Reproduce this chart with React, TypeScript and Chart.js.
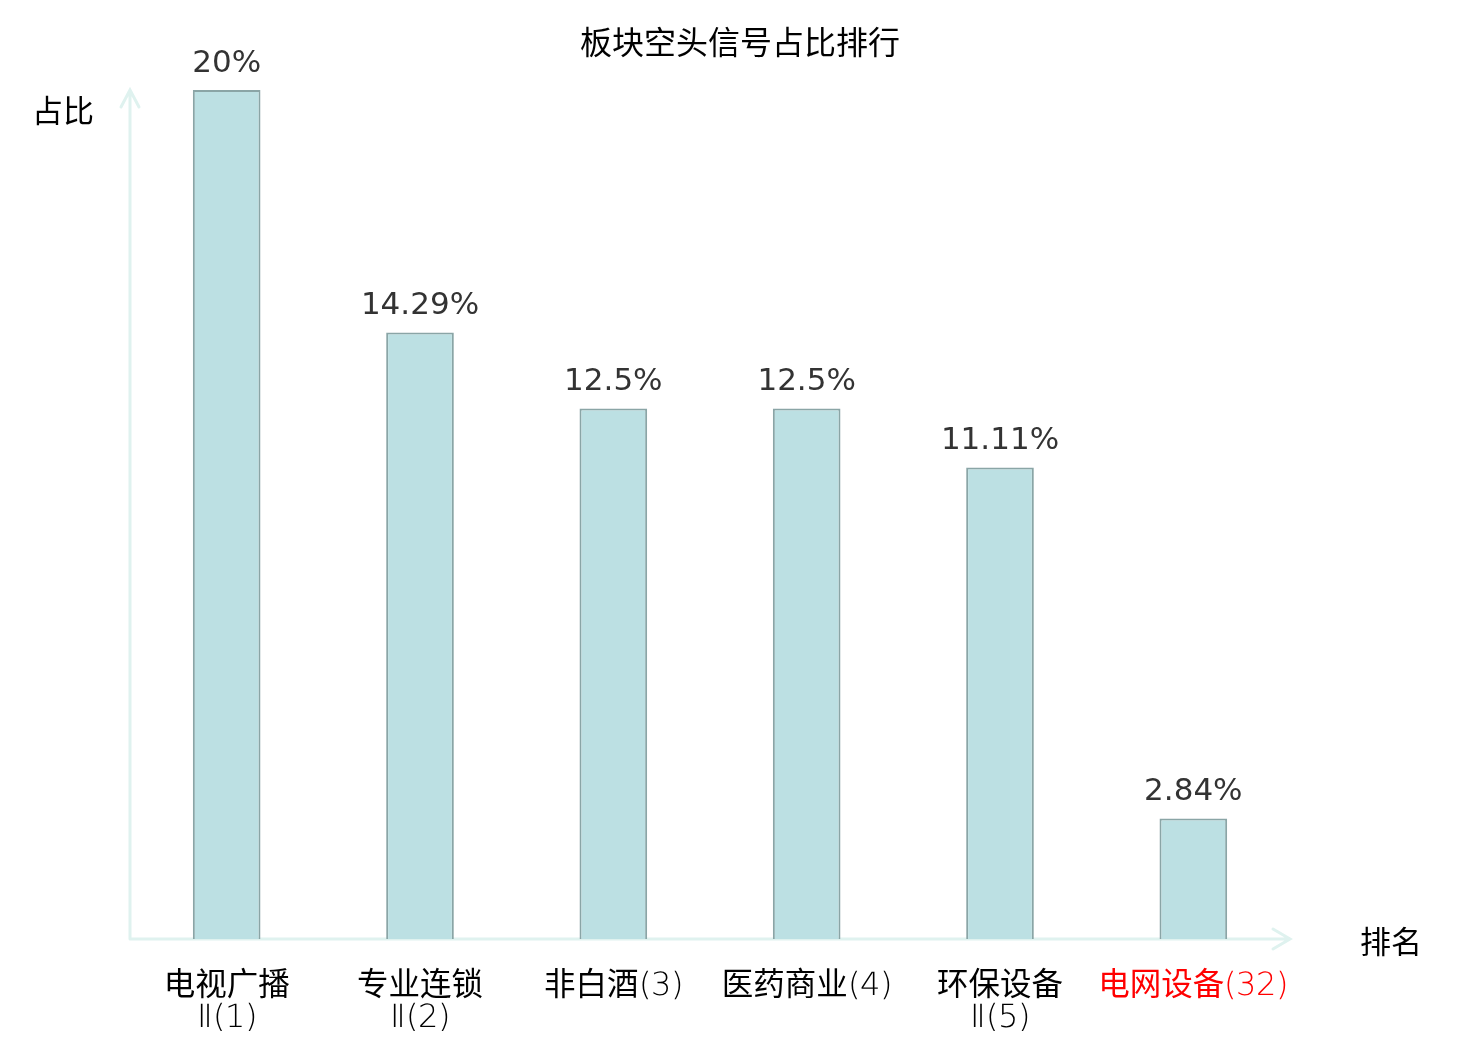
import { useEffect, useRef } from 'react';
import { Chart, registerables, Plugin } from 'chart.js';

Chart.register(...registerables);

const categories: string[][] = [
  ['电视广播', 'Ⅱ(1)'],
  ['专业连锁', 'Ⅱ(2)'],
  ['非白酒(3)'],
  ['医药商业(4)'],
  ['环保设备', 'Ⅱ(5)'],
  ['电网设备(32)'],
];
const shares: number[] = [20, 14.29, 12.5, 12.5, 11.11, 2.84];
const highlightIndex = 5;

const chartTitle = '板块空头信号占比排行';
const yName = '占比';
const xName = '排名';

const CJK = '"Noto Sans CJK SC", "DejaVu Sans", sans-serif';
// thin latin glyphs, regular CJK glyphs
const TICK_FONT = 'TickLatin, "Noto Sans CJK SC", sans-serif';
const AXIS_COLOR = '#dff2ef';

const fontFace = `@font-face {
  font-family: 'TickLatin';
  src: local('DejaVu Sans ExtraLight'), local('DejaVuSans-ExtraLight');
  unicode-range: U+0000-00FF, U+2160-2188;
}`;

// axis lines with arrows, names, title and value labels
const decorations: Plugin<'bar'> = {
  id: 'decorations',
  beforeDatasetsDraw(chart) {
    const { ctx, chartArea } = chart;
    const { left, right, top, bottom } = chartArea;
    ctx.save();
    ctx.strokeStyle = AXIS_COLOR;
    ctx.lineWidth = 3;
    ctx.lineCap = 'round';
    ctx.beginPath();
    ctx.moveTo(left, bottom);
    ctx.lineTo(left, top);
    ctx.moveTo(left - 9, top + 17);
    ctx.lineTo(left, top);
    ctx.lineTo(left + 9, top + 17);
    ctx.moveTo(left, bottom);
    ctx.lineTo(right, bottom);
    ctx.moveTo(right - 17, bottom - 10);
    ctx.lineTo(right, bottom);
    ctx.lineTo(right - 17, bottom + 10);
    ctx.stroke();
    ctx.restore();
  },
  afterDatasetsDraw(chart) {
    const { ctx } = chart;
    ctx.save();
    ctx.fillStyle = '#000';
    ctx.textAlign = 'center';
    ctx.textBaseline = 'middle';
    ctx.font = `32px ${CJK}`;
    ctx.fillText(chartTitle, chart.width / 2, 42);
    ctx.font = `31px ${CJK}`;
    ctx.fillText(yName, 63, 110);
    ctx.fillText(xName, 1391, 941);

    ctx.fillStyle = '#333';
    ctx.font = '31px "DejaVu Sans", sans-serif';
    ctx.textBaseline = 'alphabetic';
    const meta = chart.getDatasetMeta(0);
    meta.data.forEach((bar, i) => {
      ctx.fillText(`${shares[i]}%`, bar.x, bar.y - 18);
    });
    ctx.restore();
  },
};

export default function App() {
  const canvasRef = useRef<HTMLCanvasElement>(null);
  const chartRef = useRef<Chart<'bar'> | null>(null);

  useEffect(() => {
    document.body.style.margin = '0';
    let cancelled = false;

    const style = document.createElement('style');
    style.textContent = fontFace;
    document.head.appendChild(style);

    const build = () => {
      if (cancelled || !canvasRef.current) return;
      if (chartRef.current) chartRef.current.destroy();

      chartRef.current = new Chart(canvasRef.current, {
        type: 'bar',
        data: {
          labels: categories,
          datasets: [
            {
              data: shares,
              backgroundColor: '#bce0e3',
              borderColor: '#8aa5a6',
              borderWidth: 2,
              barPercentage: 0.35,
              categoryPercentage: 1,
            },
          ],
        },
        options: {
          animation: false,
          responsive: false,
          layout: { padding: { left: 130, right: 190, top: 90, bottom: 9 } },
          plugins: {
            legend: { display: false },
            title: { display: false },
            tooltip: { enabled: false },
          },
          scales: {
            x: {
              grid: { display: false },
              border: { display: false },
              afterFit: (scale) => {
                scale.height = 92;
              },
              ticks: {
                padding: 24,
                maxRotation: 0,
                autoSkip: false,
                font: { family: TICK_FONT, size: 31.5, lineHeight: 1.02 },
                color: (c) => (c.index === highlightIndex ? '#f00' : '#000'),
              },
            },
            y: {
              display: false,
              min: 0,
              max: 20,
            },
          },
        },
        plugins: [decorations],
      });
    };

    document.fonts
      .load('31px TickLatin', 'Ⅱ(1)')
      .catch(() => undefined)
      .then(build);

    return () => {
      cancelled = true;
      style.remove();
      if (chartRef.current) {
        chartRef.current.destroy();
        chartRef.current = null;
      }
    };
  }, []);

  return (
    <div style={{ width: 1480, height: 1040, background: '#fff' }}>
      <canvas ref={canvasRef} width={1480} height={1040}></canvas>
    </div>
  );
}
